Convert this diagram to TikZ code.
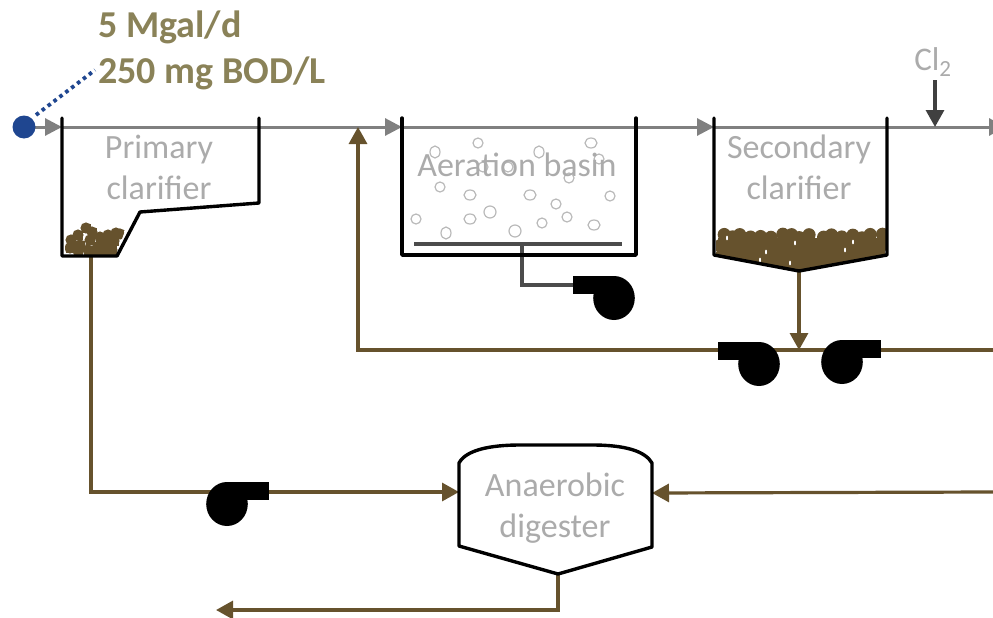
\documentclass[tikz,border=0pt]{standalone}
\usepackage{fontspec}
\setmainfont{Carlito}
\usetikzlibrary{arrows.meta}
\definecolor{flowgray}{HTML}{808080}
\definecolor{sludge}{HTML}{66522D}
\definecolor{labelgray}{HTML}{ABABAB}
\definecolor{headtext}{HTML}{8A8258}
\definecolor{feedblue}{HTML}{1F4690}
\tikzset{
  tank/.style={draw=black,line width=3.4pt,line join=round,line cap=round},
  flow/.style={draw=flowgray,line width=3pt,-{Triangle[length=17pt,width=17pt]}},
  flowplain/.style={draw=flowgray,line width=3pt},
  brownflow/.style={draw=sludge,line width=3.2pt,-{Triangle[length=17pt,width=18pt]}},
  brownplain/.style={draw=sludge,line width=3.2pt},
  airpipe/.style={draw=black!70,line width=3.4pt,line join=miter},
  chem/.style={draw=black!75,line width=3.2pt,-{Triangle[length=17pt,width=18pt]}},
  lbl/.style={text=labelgray,font=\fontsize{34}{41}\selectfont,align=center,inner sep=0pt},
  head/.style={text=headtext,font=\fontsize{38}{47}\selectfont\bfseries,align=left,inner sep=0pt,anchor=base west},
  bubble/.style={draw=black!27,line width=1.2pt},
  grain/.style={fill=sludge,draw=none},
  pumpbody/.style={fill=black,draw=none}
}
\newcommand{\pumpR}[3]{% circle centre x, y; outlet to the left, x extent #3
  \fill[pumpbody] (#1-#3,#2-22) rectangle (#1,#2-4);
  \fill[pumpbody] (#1,#2) ellipse[x radius=20.8,y radius=22];
}
\newcommand{\pumpL}[3]{% circle centre x, y; outlet to the right, x extent #3
  \fill[pumpbody] (#1+#3,#2-22) rectangle (#1,#2-4);
  \fill[pumpbody] (#1,#2) ellipse[x radius=20.8,y radius=22];
}
\begin{document}
\begin{tikzpicture}[x=1pt,y=-1pt]
\useasboundingbox (0,0) rectangle (993,618);
\clip (0,0) rectangle (993,618);
% named points
\coordinate (feedout) at (24,127);
\coordinate (pcin) at (62,127);
\coordinate (pcout) at (259,127);
\coordinate (junction) at (358,127);
\coordinate (abin) at (402,127);
\coordinate (about) at (636,127);
\coordinate (scin) at (714,127);
\coordinate (chemin) at (935,127);
\coordinate (effluent) at (1006,127);
\coordinate (chemtop) at (935,80);
\coordinate (pcunder) at (91,256);
\coordinate (pcbend) at (91,492);
\coordinate (digin) at (459,492);
\coordinate (digright) at (652,493);
\coordinate (wasin) at (993,492);
\coordinate (digtip) at (558,574);
\coordinate (digbend) at (558,610);
\coordinate (digend) at (216,610);
\coordinate (sctip) at (799,271);
\coordinate (rasjoin) at (799,350);
\coordinate (rasright) at (993,350);
\coordinate (rasbend) at (358,350);
\coordinate (difftop) at (522,244);
\coordinate (diffbend) at (522,285);
\coordinate (blower) at (575,285);
\coordinate (dotstart) at (36,115);
\coordinate (dotend) at (95,70);
% main flows
\draw[flow] (feedout) -- (pcin);
\draw[flowplain] (pcin) -- (pcout);
\draw[flow] (pcout) -- (abin);
\draw[flowplain] (abin) -- (about);
\draw[flow] (about) -- (scin);
\draw[flow] (scin) -- (effluent);
\draw[chem] (chemtop) -- (chemin);
% sludge lines
\draw[brownplain] (rasright) -- (rasjoin);
\draw[brownflow] (rasjoin) -- (rasbend) -- (junction);
\draw[brownflow] (sctip) -- (rasjoin);
\draw[brownflow] (pcunder) -- (pcbend) -- (digin);
\draw[brownflow] (wasin) -- (digright);
\draw[brownflow] (digtip) -- (digbend) -- (digend);
% air
\draw[airpipe] (414,244) -- (622,244);
\draw[airpipe] (difftop) -- (diffbend) -- (blower);
% sludge blankets
\begin{scope}
  \clip (716,224) -- (886,224) -- (886,255) -- (800,271) -- (716,255) -- cycle;
  \fill[grain] (718,238) rectangle (885,272);
  \pgfmathsetseed{7}
  \foreach \gx in {722,732,...,882}{
    \foreach \gy in {236,246,256,266}{
      \pgfmathsetmacro{\jx}{\gx+rnd*6-3}
      \pgfmathsetmacro{\jy}{\gy+rnd*4-2}
      \fill[grain] (\jx,\jy) circle[radius=6.6];
    }
  }
  \foreach \wx/\wy in {795/243,727/238,766/252,845/250,760/260,853/242,790/263}{
    \fill[white] (\wx,\wy) ellipse[x radius=1,y radius=2.4];
  }
\end{scope}
\begin{scope}
  \clip (65,215) -- (130,215) -- (116,256) -- (65,256) -- cycle;
  \foreach \gx/\gy in {71/240,78/235,86/228,92/232,100/237,108/235,116/233,120/234,70/248,80/245,90/240,99/246,108/244,114/241,78/251,104/251,95/250,88/250,112/250}{
    \fill[grain] (\gx-4.5,\gy-4.5) rectangle (\gx+4.5,\gy+4.5);
    \fill[grain] (\gx,\gy) circle[radius=5.6];
  }
\end{scope}
% tanks
\draw[tank] (62,118) -- (62,256) -- (117,256) -- (140,212) -- (259,203) -- (259,118);
\draw[tank] (402,118) -- (402,255) -- (636,255) -- (636,118);
\draw[tank] (714,118) -- (714,255) -- (sctip) -- (887,255) -- (887,118);
\draw[tank,fill=white] (459,463) .. controls (466,450) and (490,445) .. (520,445) -- (592,445) .. controls (625,445) and (645,451) .. (652,463) -- (652,547) -- (digtip) -- (459,546) -- cycle;
% bubbles
\foreach \bx/\by/\ra/\rb in {435/152/5/6,478/143/5/5,539/152/5/6,591/143/6/5,599/159/5/5,483/167/5/5,508/167/5/5,569/178/5/5,440/187/5/5,470/195/6/5,530/195/6/5,556/204/5/5,610/196/5/5,416/219/5/5,470/219/6/5,490/212/6/6,446/233/5/6,515/231/6/6,542/223/5/5,567/217/5/5,594/225/6/5}{
  \draw[bubble] (\bx,\by) ellipse[x radius=\ra,y radius=\rb];
}
% pumps
\pumpR{614}{298}{41}
\pumpR{759}{364}{41}
\pumpL{842}{362}{39}
\pumpL{227}{504}{42}
% feed
\fill[feedblue] (feedout) circle[radius=11.5];
\draw[feedblue,line width=3.8pt,dash pattern=on 3.6pt off 3.8pt] (dotstart) -- (dotend);
% labels
\node[head] (flowlbl) at (98,38) {5 Mgal/d};
\node[head] (bodlbl) at (98,84) {250 mg BOD/L};
\node[lbl] (pclbl) at (159,167) {Primary\\clarifier};
\node[lbl] (ablbl) at (517,165) {Aeration basin};
\node[lbl] (sclbl) at (799,167) {Secondary\\clarifier};
\node[lbl] (diglbl) at (555,508) {Anaerobic\\digester};
\node[lbl,font=\fontsize{33}{36}\selectfont] (cllbl) at (933,62) {Cl\textsubscript{2}};
\end{tikzpicture}
\end{document}
